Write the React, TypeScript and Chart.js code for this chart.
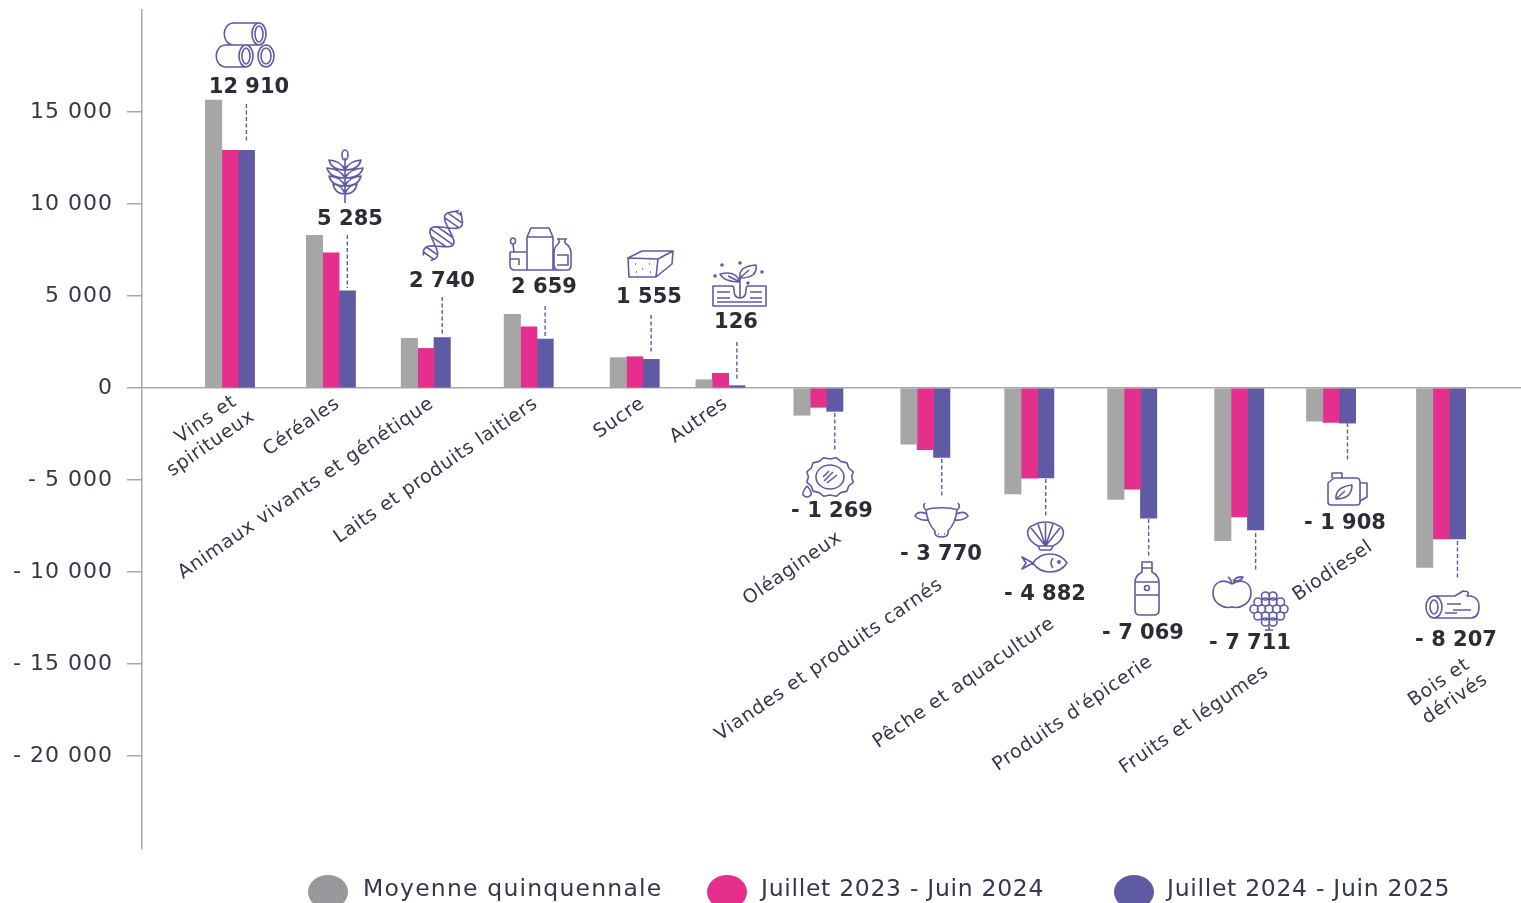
import React, { useEffect, useRef } from "react";
import { Chart, registerables } from "chart.js";

Chart.register(...registerables);

// ---------- data ----------
const categories = [
  ["Vins et", "spiritueux"],
  ["Céréales"],
  ["Animaux vivants et génétique"],
  ["Laits et produits laitiers"],
  ["Sucre"],
  ["Autres"],
  ["Oléagineux"],
  ["Viandes et produits carnés"],
  ["Pêche et aquaculture"],
  ["Produits d'épicerie"],
  ["Fruits et légumes"],
  ["Biodiesel"],
  ["Bois et", "dérivés"],
];
const moyenneQuinquennale = [15650, 8300, 2700, 4000, 1650, 450, -1480, -3050, -5750, -6050, -8300, -1800, -9750];
const juillet2023 = [12910, 7350, 2150, 3330, 1700, 800, -1050, -3350, -4900, -5500, -7000, -1870, -8207];
const juillet2024 = [12910, 5285, 2740, 2659, 1555, 126, -1269, -3770, -4882, -7069, -7711, -1908, -8207];
const seriesLabels = ["Moyenne quinquennale", "Juillet 2023 - Juin 2024", "Juillet 2024 - Juin 2025"];
const yTickValues = [-20000, -15000, -10000, -5000, 0, 5000, 10000, 15000];

// ---------- layout and styles ----------
const W = 1521;
const H = 903;
const PURPLE = "#5f5aa4";
const PINK = "#e42f8c";
const GREY = "#a6a6a6";
const TEXT = "#33384a";
const AXIS = "#a9a9ad";
const FONT = "'DejaVu Sans'";
// slot of each category along the x axis (the source spaces them unevenly)
const slots = [0, 1, 1.94, 2.96, 4.01, 4.86, 5.83, 6.89, 7.92, 8.94, 10, 10.91, 12];
// connector [top, bottom], value text [x, y], label end points
const connectors = [[104, 142], [235, 288], [297, 335], [306, 337], [315, 353], [342, 380], [413, 451], [459, 497], [479, 517], [519, 557], [533, 571], [423, 462], [541, 579]];
const valuePos = [[249, 88], [350, 220], [442, 282], [544, 288], [649, 298], [736, 323], [832, 512], [941, 555], [1045, 595], [1143, 634], [1250, 644], [1345, 524], [1456, 641]];
const labelEnds = [
  [[235, 400], [253, 415]], [[338, 402]], [[432, 402]], [[536, 402]], [[643, 402]], [[726, 402]],
  [[840, 536]], [[941, 583]], [[1053, 622]], [[1151, 660]], [[1267, 670]], [[1371, 545]],
  [[1468, 663], [1486, 678]],
];
const legendPos = [[328, 363, 1.2], [727, 761, 0.7], [1134, 1167, 0.7]];

const ell = (cx: number, cy: number, rx: number, ry: number) =>
  `M${cx - rx} ${cy}a${rx} ${ry} 0 1 0 ${2 * rx} 0a${rx} ${ry} 0 1 0 ${-2 * rx} 0`;

const wheat = () => {
  let d = "M20 8V53" + ell(20, 5, 3, 5);
  [11, 19, 27, 35].forEach((y, k) => {
    const s = [16, 18, 16, 12][k];
    d += `M20 ${y + 9}Q${20 - s * 0.85} ${y + 9} ${20 - s} ${y - 1}Q${20 - s * 0.25} ${y} 20 ${y + 9}`;
    d += `M20 ${y + 9}Q${20 + s * 0.85} ${y + 9} ${20 + s} ${y - 1}Q${20 + s * 0.25} ${y} 20 ${y + 9}`;
  });
  return d;
};
const dna = () => {
  // two strands winding round a diagonal axis, joined by rungs
  const pt = (t: number, sign: number) => {
    const ax = 39 - 33 * t;
    const ay = 3 + 47 * t;
    const amp = 5 + 9 * Math.sin(Math.PI * t);
    const o = sign * amp * Math.sin(Math.PI * 2.6 * t + 0.2);
    return [ax + o * 0.82, ay + o * 0.57];
  };
  let d = "";
  [1, -1].forEach((sign) => {
    for (let i = 0; i <= 40; i++) {
      const [x, y] = pt(i / 40, sign);
      d += `${i ? "L" : "M"}${x.toFixed(1)} ${y.toFixed(1)}`;
    }
  });
  for (let i = 2; i < 40; i += 4) {
    if (i > 14 && i < 18) continue;
    const [x1, y1] = pt(i / 40, 1);
    const [x2, y2] = pt(i / 40, -1);
    d += `M${x1.toFixed(1)} ${y1.toFixed(1)}L${x2.toFixed(1)} ${y2.toFixed(1)}`;
  }
  return d;
};
const sun = () => {
  let d = "";
  const n = 24;
  for (let i = 0; i <= n; i++) {
    const a = (i / n) * Math.PI * 2;
    const r = i % 2 ? 1 : 0.9;
    const x = 29 + 24 * r * Math.cos(a);
    const y = 20 + 20 * r * Math.sin(a);
    d += `${i ? "L" : "M"}${x.toFixed(1)} ${y.toFixed(1)}`;
  }
  d += ell(29, 20, 14, 12);
  d += "M23 24L32 15M26 26L36 18M22 20L28 14";
  d += "M6 29Q1 35 2 38Q6 42 10 38Q11 34 6 29";
  return d;
};
const artichoke = () => {
  let d = "";
  const rows = [[15.5, 4, 2], [8, 10, 4], [4, 17, 5], [8, 24, 4], [15.5, 30, 2]];
  rows.forEach(([x0, y, n]) => {
    for (let i = 0; i < n; i++) d += ell(x0 + i * 7.5, y, 4, 4);
  });
  d += "M19 34V38M15 38H23";
  return d;
};

const icons: [number, number, string][] = [
  [216, 22, "M43 1H18C5 1 5 23 18 23H43" + ell(43, 12, 7, 11) + ell(43, 12, 4, 8) + "M30 23H10C-3 23 -3 45 10 45H30" + ell(30, 34, 7, 11) + ell(30, 34, 4, 8) + ell(50, 34, 8, 11) + ell(50, 34, 5, 8)],
  [325, 150, wheat()],
  [421, 208, dna()],
  [509, 227, "M18 43V10H44V43M18 10L22 1H40L44 10M48 12H58M50 12V16Q45 20 45 26V38Q45 43 50 43H58Q62 43 62 38V26Q62 20 56 16V12M48 28H59V38H48M1 25H17M1 25V38Q1 43 6 43H58M1 32H10V38M5 25L4 17" + ell(4, 14, 2.5, 3)],
  [628, 250, "M0 8L14 1L45 1L44 14L28 27L1 27ZM0 8L30 9L45 1M30 9L28 27M7 14h1M14 19h1M21 14h1M8 22h1M22 22h1"],
  [712, 262, "M1 24H20Q22 24 22 28Q22 36 28 36Q34 36 34 28Q34 24 36 24H54V44H1ZM28 36V16M28 16Q26 4 44 3Q46 16 28 16M28 16L37 8M28 20Q12 20 8 12Q24 8 28 20M28 20L16 14M5 30H18M5 36H18M38 30H50M38 36H50M5 40H50" + ell(3, 14, 1, 1) + ell(10, 3, 1, 1) + ell(50, 10, 1, 1) + ell(28, 1, 1, 1) + ell(36, 21, 1, 1)],
  [801, 457, sun()],
  [914, 503, "M12 7C13 16 17 24 21 28C20 33 24 34 27.5 34C31 34 35 33 34 28C38 24 42 16 43 7M12 7C18 4 37 4 43 7M12 7Q8 4 11 0M43 7Q47 4 44 0M13 11Q4 7 1 13Q6 18 15 17M42 11Q51 7 54 13Q49 18 40 17M24 31h1M30 31h1"],
  [1026, 522, "M12 24C0 18 -2 6 8 3C14 -1 25 -1 31 3C41 6 39 18 27 24ZM19.5 24V1M19.5 24L12 2M19.5 24L27 2M19.5 24L5 6M19.5 24L34 6M12 24H27L25 28H14Z"],
  [1021, 553, "M12 10C20 -2 38 -2 46 10C38 22 20 22 12 10ZM12 10L1 4L5 10L1 16ZM32 5Q28 10 32 15" + ell(38, 9, 1.2, 1.2)],
  [1134, 562, "M8 0H18V6H8ZM8 6V10Q1 14 1 20V48Q1 53 6 53H20Q25 53 25 48V20Q25 14 18 10V6M1 20H25M1 33H25" + ell(13, 26, 2.5, 2.5)],
  [1213, 576, "M19 8C10 2 0 6 0 17C0 27 10 33 19 31C28 33 38 27 38 17C38 6 28 2 19 8M19 8Q18 3 15 1M20 5Q24 0 30 1Q27 6 20 5"],
  [1250, 592, artichoke()],
  [1326, 471, "M2 12L8 7H30Q34 7 34 11V31Q34 34 31 34H5Q2 34 2 31ZM6 7V2H16V7M34 12H41V26L34 30M10 28Q9 16 26 14Q26 28 10 28ZM10 28L19 20"],
  [1425, 590, "M8 6H30L38 1Q46 1 42 6H46Q54 8 54 16Q54 28 46 28H8" + ell(9, 17, 8, 11) + ell(9, 17, 4, 7) + "M22 14H36M28 20H46M20 23H32"],
];

const fmt = (n: number) => {
  const a = Math.abs(n).toString().replace(/\B(?=(\d{3})+$)/g, " ");
  return n < 0 ? `- ${a}` : a;
};

const overlay = {
  id: "overlay",
  beforeDraw(chart: any) {
    chart.ctx.letterSpacing = "1px";
  },
  afterDraw(chart: any) {
    const { ctx } = chart;
    const meta = chart.getDatasetMeta(2);
    ctx.save();
    ctx.letterSpacing = "0px";
    // connectors, anchored on the purple bars
    ctx.strokeStyle = PURPLE;
    ctx.lineWidth = 1.4;
    ctx.setLineDash([4, 2.5]);
    connectors.forEach(([a, b], i) => {
      const x = meta.data[i].x;
      ctx.beginPath();
      ctx.moveTo(x, a);
      ctx.lineTo(x, b);
      ctx.stroke();
    });
    ctx.setLineDash([]);
    // icons
    ctx.lineWidth = 1.6;
    ctx.lineJoin = "round";
    icons.forEach(([x, y, d]) => {
      ctx.save();
      ctx.translate(x, y);
      ctx.stroke(new Path2D(d));
      ctx.restore();
    });
    // values
    ctx.fillStyle = "#2b2c36";
    ctx.textAlign = "center";
    ctx.textBaseline = "middle";
    ctx.font = `600 21px ${FONT}`;
    juillet2024.forEach((v, i) => ctx.fillText(fmt(v), valuePos[i][0], valuePos[i][1]));
    // category labels
    ctx.fillStyle = TEXT;
    ctx.font = `19px ${FONT}`;
    ctx.letterSpacing = "0.7px";
    ctx.textAlign = "right";
    categories.forEach((lines, i) => {
      lines.forEach((t, j) => {
        const [x, y] = labelEnds[i][j];
        ctx.save();
        ctx.translate(x, y);
        ctx.rotate((-34.5 * Math.PI) / 180);
        ctx.fillText(t, 0, 0);
        ctx.restore();
      });
    });
    // legend
    ctx.textAlign = "left";
    ctx.font = `23.5px ${FONT}`;
    chart.data.datasets.forEach((ds: any, i: number) => {
      const [cx, tx, spacing] = legendPos[i];
      ctx.letterSpacing = `${spacing}px`;
      ctx.fillStyle = i === 0 ? "#97979c" : ds.backgroundColor;
      ctx.beginPath();
      ctx.ellipse(cx, 892, 20, 17, 0, 0, Math.PI * 2);
      ctx.fill();
      ctx.fillStyle = TEXT;
      ctx.fillText(ds.label, tx, 890);
    });
    ctx.restore();
  },
};

export default function App() {
  const ref = useRef<HTMLCanvasElement>(null);
  useEffect(() => {
    const makeSeries = (values: number[]) => values.map((y, i) => ({ x: slots[i], y }));
    const chart = new Chart(ref.current as HTMLCanvasElement, {
      type: "bar",
      data: {
        datasets: [
          { label: seriesLabels[0], data: makeSeries(moyenneQuinquennale), backgroundColor: GREY },
          { label: seriesLabels[1], data: makeSeries(juillet2023), backgroundColor: PINK },
          { label: seriesLabels[2], data: makeSeries(juillet2024), backgroundColor: PURPLE },
        ],
      } as any,
      plugins: [overlay],
      options: {
        responsive: false,
        animation: false,
        layout: { padding: { top: 10, bottom: 54, left: 0, right: 0 } },
        datasets: { bar: { barThickness: 16.4 } },
        plugins: { legend: { display: false }, tooltip: { enabled: false } },
        scales: {
          x: {
            type: "linear",
            position: { y: 0 },
            offset: false,
            min: -0.872,
            max: 12.792,
            afterFit: (s: any) => {
              s.height = 0;
            },
            ticks: { display: false },
            grid: { display: false },
            border: { display: true, color: AXIS, width: 1.5 },
          },
          y: {
            type: "linear",
            min: -25054,
            max: 20543,
            afterBuildTicks: (s: any) => {
              s.ticks = yTickValues.map((value) => ({ value }));
            },
            afterFit: (s: any) => {
              s.width = 142;
              s.paddingTop = 0;
              s.paddingBottom = 0;
            },
            ticks: {
              includeBounds: false,
              padding: 14,
              color: TEXT,
              font: { family: FONT, size: 22 },
              callback: (v: any) => fmt(Number(v)),
            },
            grid: { drawOnChartArea: false, drawTicks: true, tickLength: 15, color: AXIS, lineWidth: 1.5 },
            border: { display: true, color: AXIS, width: 1.5 },
          },
        },
      } as any,
    });
    return () => chart.destroy();
  }, []);
  return (
    <div style={{ position: "absolute", left: 0, top: 0, width: W, height: H, background: "#fff" }}>
      <canvas ref={ref} width={W} height={H} style={{ display: "block" }} />
    </div>
  );
}
